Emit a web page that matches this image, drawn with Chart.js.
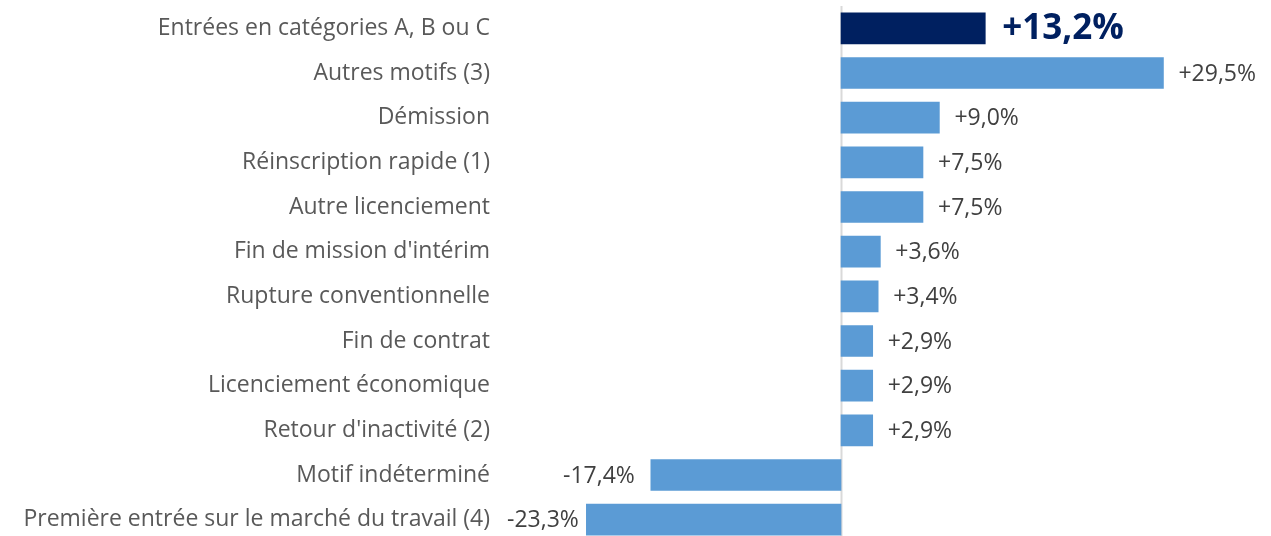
<!DOCTYPE html>
<html>
<head>
<meta charset="utf-8">
<script src="https://cdn.jsdelivr.net/npm/chart.js@4"></script>
<style>
    html, body { margin: 0; padding: 0; background: #fff; overflow: hidden; }
    #wrap { width: 1271px; height: 542px; position: relative; }
</style>
</head>
<body>
<div id="wrap"><canvas id="motifsChart"></canvas></div>
<script>
// Entrées par motif : évolution sur un an
const categories = [
    'Entrées en catégories A, B ou C',
    'Autres motifs (3)',
    'Démission',
    'Réinscription rapide (1)',
    'Autre licenciement',
    "Fin de mission d'intérim",
    'Rupture conventionnelle',
    'Fin de contrat',
    'Licenciement économique',
    "Retour d'inactivité (2)",
    'Motif indéterminé',
    'Première entrée sur le marché du travail (4)'
];
const values = [13.2, 29.5, 9.0, 7.5, 7.5, 3.6, 3.4, 2.9, 2.9, 2.9, -17.4, -23.3];
const valueLabels = ['+13,2%', '+29,5%', '+9,0%', '+7,5%', '+7,5%', '+3,6%', '+3,4%',
    '+2,9%', '+2,9%', '+2,9%', '-17,4%', '-23,3%'];

const FONT = '"Open Sans"';
const barColors = values.map((v, i) => i === 0 ? '#002060' : '#5b9bd5');

// zero line + value labels
const annotate = {
    id: 'annotate',
    beforeDatasetsDraw(chart) {
        const { ctx, chartArea, scales } = chart;
        const x0 = Math.round(scales.x.getPixelForValue(0)) + 0.5;
        ctx.save();
        ctx.strokeStyle = '#d9d9d9';
        ctx.lineWidth = 2;
        ctx.beginPath();
        ctx.moveTo(x0, chartArea.top);
        ctx.lineTo(x0, chartArea.bottom);
        ctx.stroke();
        ctx.restore();
    },
    afterDatasetsDraw(chart) {
        const { ctx } = chart;
        const meta = chart.getDatasetMeta(0);
        ctx.save();
        ctx.textBaseline = 'middle';
        meta.data.forEach((bar, i) => {
            const first = i === 0;
            ctx.font = first ? `bold 35px ${FONT}` : `23px ${FONT}`;
            ctx.fillStyle = first ? '#002060' : '#404040';
            const txt = valueLabels[i];
            if (values[i] >= 0) {
                ctx.textAlign = 'left';
                ctx.fillText(txt, bar.x + (first ? 17 : 15), bar.y + 1);
            } else {
                ctx.textAlign = 'right';
                const w = ctx.measureText(txt).width;
                const x = Math.max(bar.x - 16, 507 + w);
                ctx.fillText(txt, x, bar.y + 1);
            }
        });
        ctx.restore();
    }
};

new Chart(document.getElementById('motifsChart'), {
    type: 'bar',
    data: {
        labels: categories,
        datasets: [{
            data: values,
            backgroundColor: barColors,
            barThickness: 31,
            borderWidth: 0
        }]
    },
    options: {
        indexAxis: 'y',
        responsive: true,
        maintainAspectRatio: false,
        animation: false,
        layout: { padding: { top: 6, right: 0, bottom: 0, left: 0 } },
        plugins: {
            legend: { display: false },
            tooltip: { enabled: false }
        },
        scales: {
            x: {
                display: false,
                min: -31.2,
                max: 39.34
            },
            y: {
                afterFit(scale) {
                    scale.width = 500;
                    scale.paddingTop = 0;
                    scale.paddingBottom = 0;
                },
                grid: { display: false, drawTicks: false },
                border: { display: false },
                ticks: {
                    padding: 10,
                    color: '#595959',
                    font: { family: FONT, size: 23 }
                }
            }
        }
    },
    plugins: [annotate]
});
</script>
</body>
</html>
